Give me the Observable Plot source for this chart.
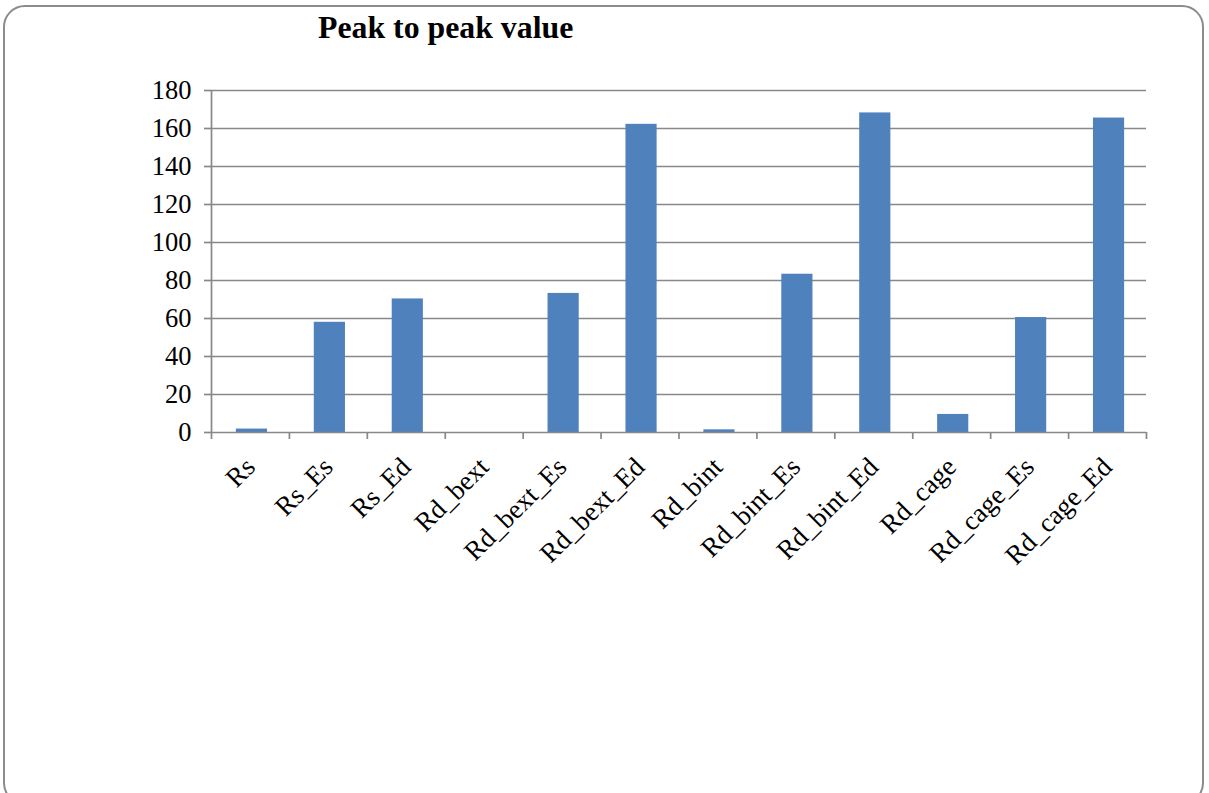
<!DOCTYPE html>
<html>
<head>
<meta charset="utf-8">
<script src="https://cdn.jsdelivr.net/npm/d3@7"></script>
<script src="https://cdn.jsdelivr.net/npm/@observablehq/plot@0.6"></script>
<style>
  html, body { margin: 0; padding: 0; background: #fff; }
  #wrap { position: relative; width: 1209px; height: 793px; overflow: hidden; }
  #frame { position: absolute; left: 3px; top: 5px; width: 1201px; height: 800px;
           border: 2px solid #8c8c8c; border-radius: 22px; box-sizing: border-box; }
  #title { position: absolute; left: 318px; top: 10px; font-family: "Liberation Serif", serif;
           font-weight: bold; font-size: 31.8px; color: #000; white-space: nowrap; }
  #chart { position: absolute; left: 0; top: 0; }
  #chart svg text { font-family: "Liberation Serif", serif; }
</style>
</head>
<body>
<div id="wrap">
  <div id="frame"></div>
  <div id="title">Peak to peak value</div>
  <div id="chart"></div>
</div>
<script>
const categories = ["Rs", "Rs_Es", "Rs_Ed", "Rd_bext", "Rd_bext_Es", "Rd_bext_Ed",
                    "Rd_bint", "Rd_bint_Es", "Rd_bint_Ed", "Rd_cage", "Rd_cage_Es", "Rd_cage_Ed"];
const values = [1.8, 58, 70.3, 0, 73.2, 162.2, 1.4, 83.3, 168.2, 9.5, 60.5, 165.5];
const yTicks = [0, 20, 40, 60, 80, 100, 120, 140, 160, 180];

const data = categories.map((c, i) => ({ category: c, value: values[i] }));

const W = 1209, H = 793;
const mL = 211, mR = 63, mT = 90, mB = H - 432;
const step = (W - mL - mR) / categories.length;
const grey = "#888888";

const chart = Plot.plot({
  width: W,
  height: H,
  marginLeft: mL,
  marginRight: mR,
  marginTop: mT,
  marginBottom: mB,
  style: { fontFamily: "'Liberation Serif', serif", background: "transparent", overflow: "visible" },
  x: { type: "band", domain: categories, paddingInner: 0.6, paddingOuter: 0.3, round: false, label: null },
  y: { type: "linear", domain: [0, 180], label: null },
  marks: [
    Plot.ruleY(yTicks.filter(d => d > 0), { stroke: grey, strokeWidth: 1.7 }),
    Plot.barY(data, { x: "category", y: "value", fill: "#4F81BD", dx: 1.5 }),
    Plot.ruleY([0], { stroke: grey, strokeWidth: 1.7 }),
    Plot.ruleX(categories, { x: d => d, dx: -step / 2, y1: 0, y2: -3.7, stroke: grey, strokeWidth: 1.7 }),
    Plot.ruleX([categories[categories.length - 1]], { x: d => d, dx: step / 2, y1: 0, y2: -3.7, stroke: grey, strokeWidth: 1.7 }),
    Plot.ruleX([categories[0]], { x: d => d, dx: -step / 2, y1: 0, y2: 180, stroke: grey, strokeWidth: 1.7 }),
    Plot.axisY({ ticks: yTicks, tickSize: 7, tickPadding: 13, stroke: grey, strokeWidth: 1.7,
                 fontSize: 26.5, color: "#000", label: null }),
    Plot.axisX({ tickSize: 0, tickPadding: 30, dx: 0, tickRotate: -45, fontSize: 27, color: "#000", label: null })
  ]
});
document.getElementById("chart").appendChild(chart);
</script>
</body>
</html>
